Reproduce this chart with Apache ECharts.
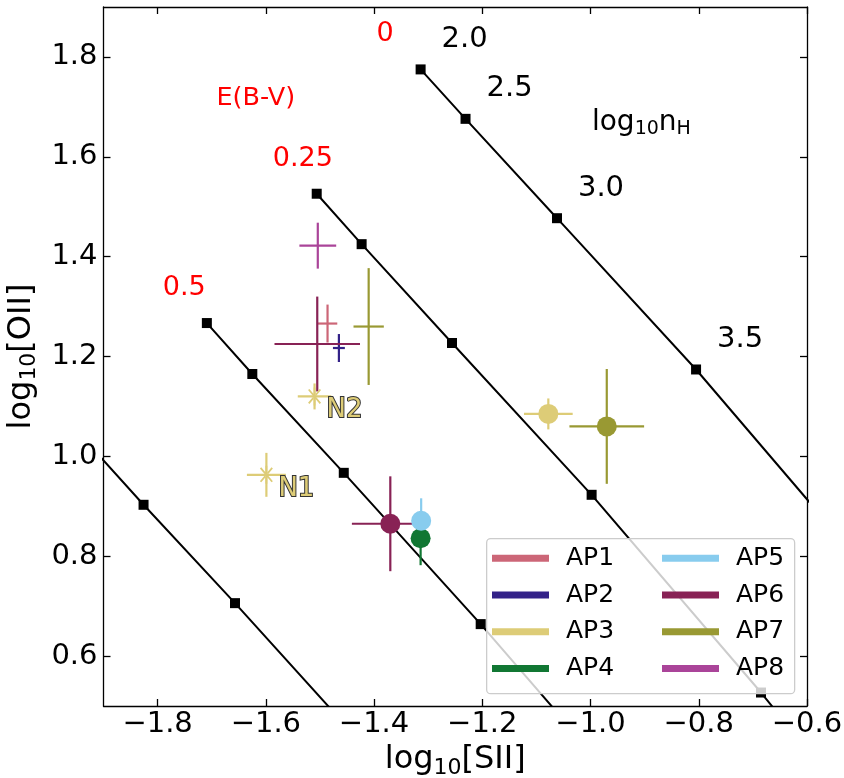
<!DOCTYPE html>
<html>
<head>
<meta charset="utf-8">
<script src="https://cdn.jsdelivr.net/npm/echarts@6/dist/echarts.min.js"></script>
<style>
  html, body { margin: 0; padding: 0; background: #fff; }
  #chart { width: 844px; height: 778px; }
</style>
</head>
<body>
<div id="chart"></div>
<script>
// Axis ticks
const xTicks = [-1.8, -1.6, -1.4, -1.2, -1.0, -0.8, -0.6];
const yTicks = [0.6, 0.8, 1.0, 1.2, 1.4, 1.6, 1.8];

// Model grid: one track per E(B-V), one node per log10 n_H
const nH = [2.0, 2.5, 3.0, 3.5, 4.0, 4.5];
const ebv = ['0', '0.25', '0.5', '0.75'];
const gridSII = [
  [-1.314, -1.231, -1.062, -0.805, -0.492, -0.142],
  [-1.506, -1.423, -1.256, -0.998, -0.685, -0.335],
  [-1.709, -1.625, -1.456, -1.203, -0.887, -0.537],
  [-1.911, -1.826, -1.657, -1.404, -1.088, -0.738]
];
const gridOII = [
  [1.775, 1.676, 1.477, 1.174, 0.777, 0.306],
  [1.526, 1.425, 1.227, 0.923, 0.527, 0.056],
  [1.267, 1.165, 0.967, 0.664, 0.268, -0.203],
  [1.005, 0.903, 0.706, 0.403, 0.006, -0.465]
];

// Apertures
const apNames = ['AP1', 'AP2', 'AP3', 'AP4', 'AP5', 'AP6', 'AP7', 'AP8'];
const apColors = ['#CC6677', '#332288', '#DDCC77', '#117733', '#88CCEE', '#882255', '#999933', '#AA4499'];

// Measurements (aperture index, log10[SII], log10[OII], errors, marker, tag)
const obsAp     = [0, 1, 2, 2, 2, 3, 4, 5, 5, 6, 6, 7];
const obsSII    = [-1.486, -1.465, -1.078, -1.599, -1.510, -1.314, -1.313, -1.505, -1.370, -1.410, -0.970, -1.504];
const obsOII    = [1.266, 1.217, 1.085, 0.963, 1.120, 0.836, 0.871, 1.225, 0.865, 1.260, 1.060, 1.422];
const obsSIIErr = [0.018, 0.011, 0.045, 0.036, 0.031, 0.010, 0.010, 0.079, 0.071, 0.028, 0.069, 0.034];
const obsOIIErr = [0.038, 0.028, 0.031, 0.044, 0.026, 0.054, 0.045, 0.095, 0.095, 0.117, 0.115, 0.046];
const obsMarker = ['none', 'none', 'circle', 'star', 'star', 'circle', 'circle', 'none', 'circle', 'none', 'circle', 'none'];
const obsTag    = ['', '', '', 'N1', 'N2', '', '', '', '', '', '', ''];

const FONT = 'DejaVu Sans';
const starPath = 'path://M45,0 L55,0 L55,100 L45,100 Z M21.7,8.5 L85.9,85.1 L78.3,91.5 L14.1,14.9 Z M78.3,8.5 L14.1,85.1 L21.7,91.5 L85.9,14.9 Z';

function fmtTick(v) {
  return (v < 0 ? '\u2212' : '') + Math.abs(v).toFixed(1);
}

const subRich = (size, pad) => ({ sub: { fontSize: size, fontFamily: FONT, color: '#000', padding: [pad, 0, 0, 0] } });

const series = [];

// Model tracks
gridSII.forEach((sRow, i) => {
  series.push({
    type: 'line',
    name: 'E(B-V)=' + ebv[i],
    z: 1,
    clip: true,
    silent: true,
    symbol: 'rect',
    symbolSize: 10,
    showAllSymbol: true,
    lineStyle: { color: '#000', width: 2 },
    itemStyle: { color: '#000', opacity: 1 },
    data: sRow.map((s, j) => {
      const item = { value: [s, gridOII[i][j]] };
      if (i === 0 && j < 4) {
        item.label = {
          show: true, position: 'inside', formatter: nH[j].toFixed(1),
          offset: [44, -30], color: '#000', fontSize: 29, fontFamily: FONT
        };
      }
      return item;
    })
  });
});

// E(B-V) values next to the first node of each labelled track
series.push({
  type: 'scatter',
  z: 4,
  silent: true,
  symbolSize: 0,
  itemStyle: { opacity: 1 },
  data: [0, 1, 2].map(i => ({ value: [gridSII[i][0], gridOII[i][0]], name: ebv[i] })),
  label: {
    show: true, position: 'inside', formatter: p => p.name,
    align: 'left', verticalAlign: 'middle', offset: [-44, -35],
    color: '#ff0000', fontSize: 27, fontFamily: FONT
  }
});

// Headings for the two grid parameters
series.push({
  type: 'scatter', z: 4, silent: true, symbolSize: 0,
  itemStyle: { opacity: 1 },
  data: [[-1.6185, 1.717]],
  label: { show: true, position: 'inside', formatter: 'E(B-V)', color: '#ff0000', fontSize: 25.5, fontFamily: FONT }
});
series.push({
  type: 'scatter', z: 4, silent: true, symbolSize: 0,
  itemStyle: { opacity: 1 },
  data: [[-0.906, 1.669]],
  label: {
    show: true, position: 'inside', formatter: 'log{sub|10}n{sub|H}',
    color: '#000', fontSize: 28, fontFamily: FONT, rich: subRich(19, 14)
  }
});

// Error bars, then markers on top
apNames.forEach((name, k) => {
  const idx = obsAp.map((a, i) => (a === k ? i : -1)).filter(i => i >= 0);
  const color = apColors[k];
  series.push({
    type: 'custom',
    name: name,
    z: 2,
    silent: true,
    itemStyle: { color: color },
    encode: { x: 0, y: 1 },
    data: idx.map(i => [obsSII[i], obsOII[i], obsSIIErr[i], obsOIIErr[i]]),
    renderItem: (params, api) => {
      const x = api.value(0), y = api.value(1), ex = api.value(2), ey = api.value(3);
      const l = api.coord([x - ex, y]), r = api.coord([x + ex, y]);
      const t = api.coord([x, y + ey]), b = api.coord([x, y - ey]);
      const style = { stroke: color, lineWidth: 2.2 };
      return {
        type: 'group',
        children: [
          { type: 'line', shape: { x1: l[0], y1: l[1], x2: r[0], y2: r[1] }, style: style },
          { type: 'line', shape: { x1: t[0], y1: t[1], x2: b[0], y2: b[1] }, style: style }
        ]
      };
    }
  });
  const marked = idx.filter(i => obsMarker[i] !== 'none');
  if (marked.length) {
    series.push({
      type: 'scatter',
      name: name,
      z: 3,
      silent: true,
      itemStyle: { color: color, opacity: 1 },
      data: marked.map(i => {
        const star = obsMarker[i] === 'star';
        const item = {
          value: [obsSII[i], obsOII[i]],
          symbol: star ? starPath : 'circle',
          symbolSize: star ? [13, 18] : 20
        };
        if (obsTag[i]) {
          item.label = {
            show: true, position: 'inside', formatter: obsTag[i],
            align: 'left', verticalAlign: 'middle', offset: [12, 14],
            color: color, fontSize: 26, fontFamily: FONT,
            textBorderColor: '#333', textBorderWidth: 2
          };
        }
        return item;
      })
    });
  }
});

const axisLine = { onZero: false, lineStyle: { color: '#000', width: 1.3 } };
const tickStyle = { color: '#000', width: 1.3 };

const legendBase = {
  orient: 'vertical',
  icon: 'rect',
  itemWidth: 57,
  itemHeight: 7,
  itemGap: 6.7,
  padding: 0,
  selectedMode: false,
  z: 6,
  textStyle: { fontSize: 25, fontFamily: FONT, color: '#000', lineHeight: 30, padding: [0, 0, 0, 12] }
};

const option = {
  animation: false,
  backgroundColor: '#fff',
  textStyle: { fontFamily: FONT },
  grid: { left: 103.5, right: 37, top: 7, bottom: 72, containLabel: false, outerBoundsMode: 'none' },
  xAxis: [
    {
      type: 'value', position: 'bottom', min: -1.9, max: -0.6,
      splitLine: { show: false }, axisLine: axisLine,
      axisTick: { inside: true, length: 7, customValues: xTicks, lineStyle: tickStyle },
      axisLabel: { customValues: xTicks, formatter: fmtTick, fontSize: 29, color: '#000', margin: 4, fontFamily: FONT },
      name: 'log{sub|10}[SII]', nameLocation: 'middle', nameGap: 34,
      nameTextStyle: { fontSize: 32, color: '#000', fontFamily: FONT, rich: subRich(22, 16) }
    },
    {
      type: 'value', position: 'top', min: -1.9, max: -0.6,
      splitLine: { show: false }, axisLine: axisLine,
      axisTick: { inside: true, length: 7, customValues: xTicks, lineStyle: tickStyle },
      axisLabel: { show: false }
    }
  ],
  yAxis: [
    {
      type: 'value', position: 'left', min: 0.5, max: 1.9,
      splitLine: { show: false }, axisLine: axisLine,
      axisTick: { inside: true, length: 7, customValues: yTicks, lineStyle: tickStyle },
      axisLabel: { customValues: yTicks, formatter: v => v.toFixed(1), fontSize: 29, color: '#000', margin: 6, fontFamily: FONT },
      name: 'log{sub|10}[OII]', nameLocation: 'middle', nameGap: 62, nameRotate: 90,
      nameTextStyle: { fontSize: 32, color: '#000', fontFamily: FONT, rich: subRich(22, 16) }
    },
    {
      type: 'value', position: 'right', min: 0.5, max: 1.9,
      splitLine: { show: false }, axisLine: axisLine,
      axisTick: { inside: true, length: 7, customValues: yTicks, lineStyle: tickStyle },
      axisLabel: { show: false }
    }
  ],
  legend: [
    Object.assign({}, legendBase, { data: apNames.slice(0, 4), left: 492, top: 543.3 }),
    Object.assign({}, legendBase, { data: apNames.slice(4), left: 662, top: 543.3 })
  ],
  graphic: [
    {
      type: 'rect', left: 486, top: 538, z: 5, silent: true,
      shape: { width: 308, height: 155, r: 4 },
      style: { fill: 'rgba(255,255,255,0.8)', stroke: '#cccccc', lineWidth: 1.3 }
    }
  ],
  series: series
};

const chart = echarts.init(document.getElementById('chart'), null, { renderer: 'canvas' });
chart.setOption(option);
</script>
</body>
</html>
